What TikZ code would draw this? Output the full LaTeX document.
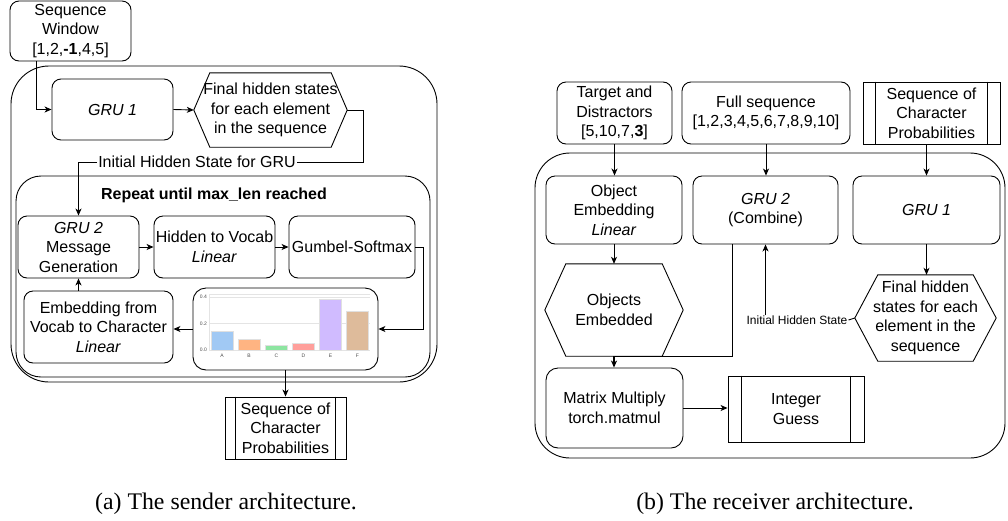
\documentclass[tikz,border=0pt]{standalone}
\usepackage{fontspec}
\setmainfont{Liberation Sans}
\newfontfamily\capfont{Liberation Serif}
\usetikzlibrary{arrows.meta}
\definecolor{pA}{HTML}{A1C9F4}
\definecolor{pB}{HTML}{FFB482}
\definecolor{pC}{HTML}{8DE5A1}
\definecolor{pD}{HTML}{FF9F9B}
\definecolor{pE}{HTML}{D0BBFF}
\definecolor{pF}{HTML}{DEBB9B}
\definecolor{gridc}{HTML}{E4E4E4}
\newcommand\hexdraw[2]{\draw[conn] (#1.west) -- ([xshift=#2]#1.north west) -- ([xshift=-#2]#1.north east) -- (#1.east) -- ([xshift=-#2]#1.south east) -- ([xshift=#2]#1.south west) -- cycle;}
\newcommand\procdraw[2]{\draw[conn] ([xshift=#2]#1.north west) -- ([xshift=#2]#1.south west) ([xshift=-#2]#1.north east) -- ([xshift=-#2]#1.south east);}
\begin{document}
\begin{tikzpicture}[x=1pt,y=-1pt,
  every node/.style={font=\fontsize{16}{19.5}\selectfont},
  conn/.style={line width=0.9pt},
  box/.style={draw, conn, rounded corners=9pt, align=center, inner sep=0pt},
  plain/.style={align=center, inner sep=0pt},
  proc/.style={draw, conn, align=center, inner sep=0pt},
  arr/.style={conn, -{Stealth[length=7pt,width=6pt,inset=2pt]}},
  thick arr/.style={arr, line width=1.4pt},
  bigbox/.style={draw, conn, inner sep=0pt},
  tick/.style={font=\fontsize{5}{6}\selectfont, text=black!70, inner sep=0pt},
  caption/.style={font=\capfont\fontsize{23.8}{28}\selectfont, anchor=base, inner sep=0pt},
]
\useasboundingbox (0,0) rectangle (1008,520);

% ================= LEFT: sender =================
\node[bigbox, rounded corners=38pt, minimum width=426pt, minimum height=316pt] (outerL) at (224,224) {};
\node[bigbox, rounded corners=25pt, minimum width=414pt, minimum height=201pt] (innerL) at (223,276.5) {};
\node[plain, font=\bfseries\fontsize{16}{19.5}\selectfont] (title) at (214,195) {Repeat until max\_len reached};

\node[box, minimum width=121pt, minimum height=60pt] (seqwin) at (70.5,31) {Sequence\\Window\\{}[1,2,\textbf{-1},4,5]};
\node[box, minimum width=121pt, minimum height=61pt] (gru1) at (112.5,109.5) {\textit{GRU 1}};
\node[plain, minimum width=153pt, minimum height=74pt] (hexL) at (270.5,110) {Final hidden states\\for each element\\in the sequence};
\hexdraw{hexL}{16pt}
\node[plain, fill=white, inner xsep=1pt] (lblL) at (197,162) {Initial Hidden State for GRU};

\node[box, minimum width=121pt, minimum height=62pt] (gru2) at (78.5,247) {\textit{GRU 2}\\Message\\Generation};
\node[box, minimum width=121pt, minimum height=62pt] (h2v) at (214.5,247) {Hidden to Vocab\\\textit{Linear}};
\node[box, minimum width=126pt, minimum height=62pt] (gumbel) at (352,247) {Gumbel-Softmax};
\node[box, minimum width=149pt, minimum height=72pt] (emb) at (98.5,327) {Embedding from\\Vocab to Character\\\textit{Linear}};
\node[box, rounded corners=13pt, minimum width=185pt, minimum height=82pt] (chart) at (285.5,329) {};

% chart contents
\draw[gridc, line width=0.6pt] (209,350) -- (370,350) (209,323.5) -- (370,323.5) (209,297) -- (370,297) (209,294) -- (370,294);
\draw[gridc, line width=0.6pt] (209,294) -- (209,350);
\foreach \lab/\cx/\v/\c in {A/222/0.14/pA, B/249/0.085/pB, C/276.5/0.04/pC, D/303.5/0.055/pD, E/330.5/0.385/pE, F/357.5/0.29/pF}{
  \fill[\c, draw=black!12, line width=0.4pt] (\cx-11,350) rectangle (\cx+11,350-132.5*\v);
  \node[tick] at (\cx,355.5) {\lab};
}
\node[tick, anchor=east] at (207,297) {0.4};
\node[tick, anchor=east] at (207,323.5) {0.2};
\node[tick, anchor=east] at (207,350) {0.0};

\node[proc, minimum width=121pt, minimum height=62pt] (seqL) at (285.5,428) {Sequence of\\Character\\Probabilities};
\procdraw{seqL}{11pt}

% left connectors
\draw[arr] ([xshift=27pt]seqwin.south west) |- (gru1.west);
\draw[arr] (gru1.east) -- (hexL.west);
\draw[conn] (hexL.east) -- ++(16,0) |- (lblL.east);
\draw[arr] (lblL.west) -| (gru2.north);
\draw[arr] (gru2.east) -- (h2v.west);
\draw[arr] (h2v.east) -- (gumbel.west);
\draw[arr] (gumbel.east) -- ++(8,0) |- (chart.east);
\draw[arr] (chart.west) -- (emb.east |- chart.west);
\draw[arr] (gru2.south |- emb.north) -- (gru2.south);
\draw[arr] (chart.south) -- (seqL.north);

\node[caption] (capA) at (226,509) {(a) The sender architecture.};

% ================= RIGHT: receiver =================
\node[bigbox, rounded corners=35pt, minimum width=470pt, minimum height=305pt] (outerR) at (770,305.5) {};

\node[box, minimum width=115pt, minimum height=62pt] (target) at (614.5,113) {Target and\\Distractors\\{}[5,10,7,\textbf{3}]};
\node[box, minimum width=168pt, minimum height=62pt] (fullseq) at (766,113) {Full sequence\\{}[1,2,3,4,5,6,7,8,9,10]};
\node[proc, minimum width=137pt, minimum height=62pt] (seqR) at (931.5,113) {Sequence of\\Character\\Probabilities};
\procdraw{seqR}{13pt}

\node[box, minimum width=136pt, minimum height=68pt] (objemb) at (614,210) {Object\\Embedding\\\textit{Linear}};
\node[box, minimum width=145pt, minimum height=68pt] (gru2r) at (765.5,210) {\textit{GRU 2}\\(Combine)};
\node[box, minimum width=147pt, minimum height=68pt] (gru1r) at (926.5,210) {\textit{GRU 1}};

\node[plain, minimum width=138pt, minimum height=92pt] (objs) at (614,310) {Objects\\Embedded};
\hexdraw{objs}{21pt}
\node[plain, minimum width=141pt, minimum height=86pt] (final) at (925.5,318) {Final hidden\\states for each\\element in the\\sequence};
\hexdraw{final}{23pt}
\node[plain, fill=white, inner xsep=1pt, font=\fontsize{12}{14}\selectfont] (lblR) at (797,320) {Initial Hidden State};

\node[box, rounded corners=12pt, minimum width=137pt, minimum height=80pt] (matmul) at (614.5,408) {Matrix Multiply\\torch.matmul};
\node[proc, minimum width=136pt, minimum height=66pt] (intg) at (796,409) {Integer\\Guess};
\procdraw{intg}{14pt}

% right connectors
\draw[thick arr] (target.south) -- (target.south |- objemb.north);
\draw[arr] (fullseq.south) -- (fullseq.south |- gru2r.north);
\draw[arr] (gru1r.north |- seqR.south) -- (gru1r.north);
\draw[arr] (objemb.south) -- (objemb.south |- objs.north);
\draw[arr] (gru1r.south) -- (gru1r.south |- final.north);
\draw[conn] ([xshift=40pt]gru2r.south west) |- (objs.south);
\draw[thick arr] (objs.south) -- (objs.south |- matmul.north);
\draw[conn] (final.west) -- (lblR.east);
\draw[arr] (gru2r.south |- lblR.north) -- (gru2r.south);
\draw[arr] (matmul.east) -- (intg.west |- matmul.east);

\node[caption] (capB) at (775,509) {(b) The receiver architecture.};
\end{tikzpicture}
\end{document}
